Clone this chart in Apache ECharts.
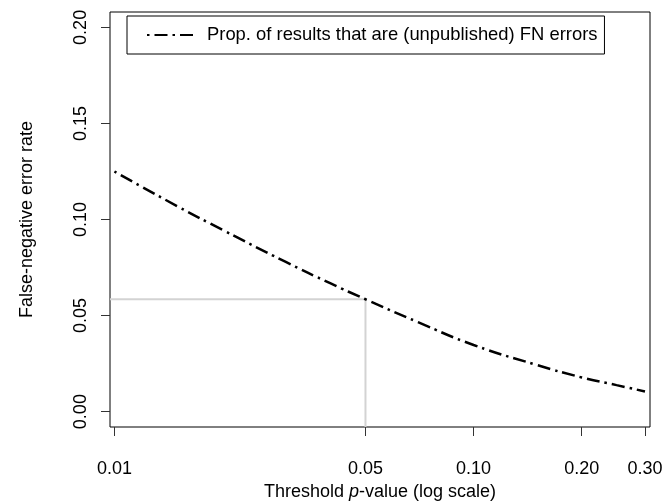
<!DOCTYPE html>
<html>
<head>
<meta charset="utf-8">
<script src="https://cdn.jsdelivr.net/npm/echarts@6/dist/echarts.min.js"></script>
<style>
  html, body { margin: 0; padding: 0; background: #ffffff; }
  #chart { width: 671px; height: 501px; }
</style>
</head>
<body>
<div id="chart"></div>
<script>
// threshold p-values (x, log scale) and false-negative rate
var pValues = [0.01, 0.015, 0.02, 0.03, 0.04, 0.05, 0.07, 0.1, 0.15, 0.2, 0.25, 0.3];
var fnRates = [0.125, 0.1068, 0.0946, 0.0779, 0.0667, 0.0585, 0.0466, 0.0347, 0.0243, 0.0178, 0.0138, 0.0105];

var xTicks = [0.01, 0.05, 0.1, 0.2, 0.3];
var yTicks = [0, 0.05, 0.1, 0.15, 0.2];

// grey guide at p = 0.05
var cutoffP = 0.05;
var cutoffRate = 0.0585;

var xMin = 0.00972, xMax = 0.3098;
var yMin = -0.008, yMax = 0.208;

var curve = [];
for (var i = 0; i < pValues.length; i++) {
  curve.push([pValues[i], fnRates[i]]);
}
var guide = [[xMin, cutoffRate], [cutoffP, cutoffRate], [cutoffP, yMin]];

var FONT = 'Liberation Sans, Arial, sans-serif';
var myChart = echarts.init(document.getElementById('chart'));

var option = {
  backgroundColor: '#ffffff',
  animation: false,
  textStyle: { fontFamily: FONT },
  grid: {
    left: 110,
    right: 21,
    top: 12,
    bottom: 74,
    outerBoundsMode: 'none',
    containLabel: false,
    show: true,
    borderColor: '#000000',
    borderWidth: 1,
    backgroundColor: 'transparent'
  },
  legend: {
    data: ['Prop. of results that are (unpublished) FN errors'],
    left: 127,
    top: 16,
    padding: [10, 7, 10, 19],
    itemWidth: 49,
    itemHeight: 14,
    borderColor: '#000000',
    borderWidth: 1,
    backgroundColor: '#ffffff',
    itemStyle: { color: 'rgba(0,0,0,0)', borderWidth: 0, opacity: 0 },
    textStyle: {
      fontFamily: FONT,
      fontSize: 18.4,
      color: '#000000',
      padding: [0, 0, 0, 6]
    }
  },
  xAxis: {
    type: 'log',
    logBase: 10,
    min: xMin,
    max: xMax,
    name: '{a|Threshold }{i|p}{a|-value (log scale)}',
    nameLocation: 'middle',
    nameGap: 56,
    nameTextStyle: {
      rich: {
        a: { fontFamily: FONT, fontSize: 18, color: '#000000' },
        i: { fontFamily: FONT, fontSize: 18, color: '#000000', fontStyle: 'italic' }
      }
    },
    axisLine: { show: false, onZero: false },
    splitLine: { show: false },
    minorTick: { show: false },
    axisTick: {
      show: true,
      inside: false,
      length: 9,
      customValues: xTicks,
      lineStyle: { color: '#333333', width: 1 }
    },
    axisLabel: {
      customValues: xTicks,
      margin: 33,
      fontFamily: FONT,
      fontSize: 18,
      color: '#000000',
      formatter: function (v) { return v.toFixed(2); }
    }
  },
  yAxis: {
    type: 'value',
    min: yMin,
    max: yMax,
    name: 'False-negative error rate',
    nameLocation: 'middle',
    nameGap: 74,
    nameRotate: 90,
    nameTextStyle: { fontFamily: FONT, fontSize: 18, color: '#000000' },
    axisLine: { show: false, onZero: false },
    splitLine: { show: false },
    axisTick: {
      show: true,
      inside: false,
      length: 9,
      customValues: yTicks,
      lineStyle: { color: '#333333', width: 1 }
    },
    axisLabel: {
      customValues: yTicks,
      rotate: 90,
      margin: 20,
      fontFamily: FONT,
      fontSize: 18,
      color: '#000000',
      formatter: function (v) { return v.toFixed(2); }
    }
  },
  series: [
    {
      name: 'guide',
      type: 'line',
      data: guide,
      symbol: 'none',
      silent: true,
      lineStyle: { color: '#d3d3d3', width: 2 },
      z: 1
    },
    {
      name: 'Prop. of results that are (unpublished) FN errors',
      type: 'line',
      data: curve,
      smooth: true,
      symbol: 'none',
      lineStyle: {
        color: '#000000',
        width: 2.5,
        type: [2.5, 5, 13, 5],
        cap: 'butt'
      },
      itemStyle: { color: '#000000' },
      z: 3
    }
  ]
};

myChart.setOption(option);
</script>
</body>
</html>
